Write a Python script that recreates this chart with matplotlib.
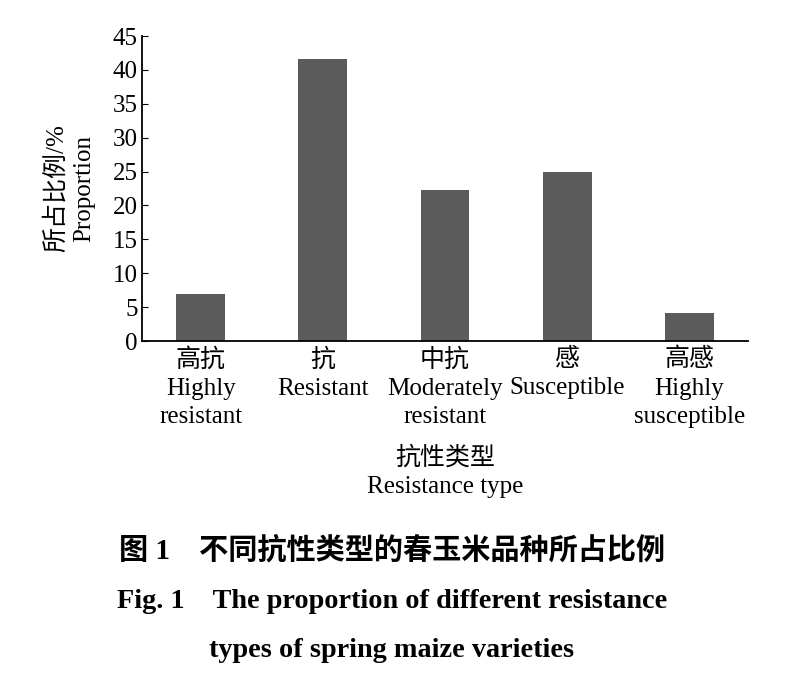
import numpy as np
import matplotlib.pyplot as plt

plt.rcParams['font.family'] = ['Liberation Serif', 'Noto Sans CJK SC']

# resistance categories and proportions (%)
categories = ['高抗\nHighly\nresistant', '抗\nResistant', '中抗\nModerately\nresistant',
              '感\nSusceptible', '高感\nHighly\nsusceptible']
proportion = [6.94, 41.67, 22.22, 25.0, 4.17]
yticks = [0, 5, 10, 15, 20, 25, 30, 35, 40, 45]

fig = plt.figure(figsize=(8, 6.8), dpi=100)
ax = fig.add_axes([0.1775, 0.4985, 0.7575, 0.4485])

ind = np.arange(len(categories))
ax.bar(ind, proportion, 0.4, color='#5b5b5b')

ax.set_xlim(-0.48, 4.48)
ax.set_ylim(0, 45)
ax.set_yticks(yticks)
ax.set_xticks(ind)
ax.set_xticklabels(categories, fontsize=18, linespacing=1.36)
ax.tick_params(axis='y', direction='in', length=4, labelsize=18, pad=3)
ax.tick_params(axis='x', length=0, pad=5)
for s in ['top', 'right']:
    ax.spines[s].set_visible(False)
ax.spines['left'].set_linewidth(1.3)
ax.spines['bottom'].set_linewidth(1.3)

ax.set_ylabel('所占比例/%\nProportion', fontsize=18, linespacing=1.3, labelpad=13)
ax.set_xlabel('抗性类型\nResistance type', fontsize=18, linespacing=1.38, labelpad=13)

# caption
fig.text(0.49, 0.191, '图 1　不同抗性类型的春玉米品种所占比例', ha='center', va='center',
         fontsize=21, fontweight='bold')
fig.text(0.49, 0.116, 'Fig. 1    The proportion of different resistance', ha='center', va='center',
         fontsize=20.3, fontweight='bold')
fig.text(0.49, 0.043, 'types of spring maize varieties', ha='center', va='center',
         fontsize=20.3, fontweight='bold')

fig.savefig('out.png', dpi=100)
